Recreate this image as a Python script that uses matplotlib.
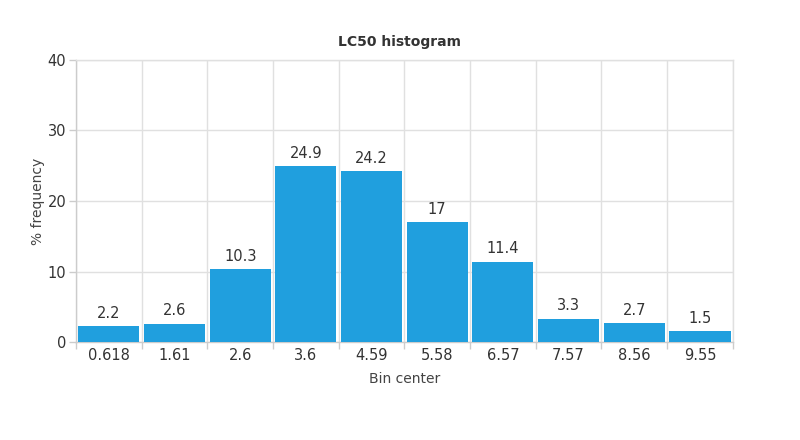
import matplotlib
matplotlib.use('Agg')
import matplotlib.pyplot as plt
import numpy as np

bin_centers = ['0.618', '1.61', '2.6', '3.6', '4.59', '5.58', '6.57', '7.57', '8.56', '9.55']
frequency = [2.2, 2.6, 10.3, 24.9, 24.2, 17, 11.4, 3.3, 2.7, 1.5]

bar_color = '#209fde'
grid_color = '#e0e0e0'
text_color = '#333333'

plt.rcParams['font.family'] = 'DejaVu Sans'

fig = plt.figure(figsize=(8, 4.4), dpi=100)
ax = fig.add_axes([0.095, 0.2227, 0.821, 0.641])

x = np.arange(len(bin_centers))
ax.bar(x, frequency, width=0.93, color=bar_color, zorder=3)

for xi, v in zip(x, frequency):
    ax.text(xi, v + 0.75, f'{v:g}', ha='center', va='bottom', fontsize=10.5, color=text_color, zorder=4)

ax.set_xlim(-0.5, len(bin_centers) - 0.5)
ax.set_ylim(0, 40)
ax.set_yticks([0, 10, 20, 30, 40])
ax.set_xticks(x)
ax.set_xticklabels(bin_centers)
ax.set_xticks(np.arange(-0.5, len(bin_centers)), minor=True)

ax.tick_params(axis='x', which='major', length=0, pad=4, labelsize=10.5, labelcolor=text_color)
ax.tick_params(axis='x', which='minor', length=5, color='#cccccc', width=1)
ax.tick_params(axis='y', length=5, color='#cccccc', width=1, pad=2, labelsize=10.5, labelcolor=text_color)

ax.grid(True, axis='y', color=grid_color, linewidth=1, zorder=0)
ax.grid(True, axis='x', which='minor', color=grid_color, linewidth=1, zorder=0)

for s in ax.spines.values():
    s.set_color(grid_color)
    s.set_linewidth(1)
ax.spines['left'].set_color('#cccccc')
ax.spines['bottom'].set_color('#cccccc')

ax.set_xlabel('Bin center', fontsize=10, color='#444444', labelpad=7)
ax.set_ylabel('% frequency', fontsize=10, color='#444444', labelpad=2)
fig.text(0.5, 1 - 42 / 440, 'LC50 histogram', ha='center', va='center', fontsize=10, fontweight='bold', color=text_color)

fig.savefig('out.png', dpi=100, facecolor='white')
